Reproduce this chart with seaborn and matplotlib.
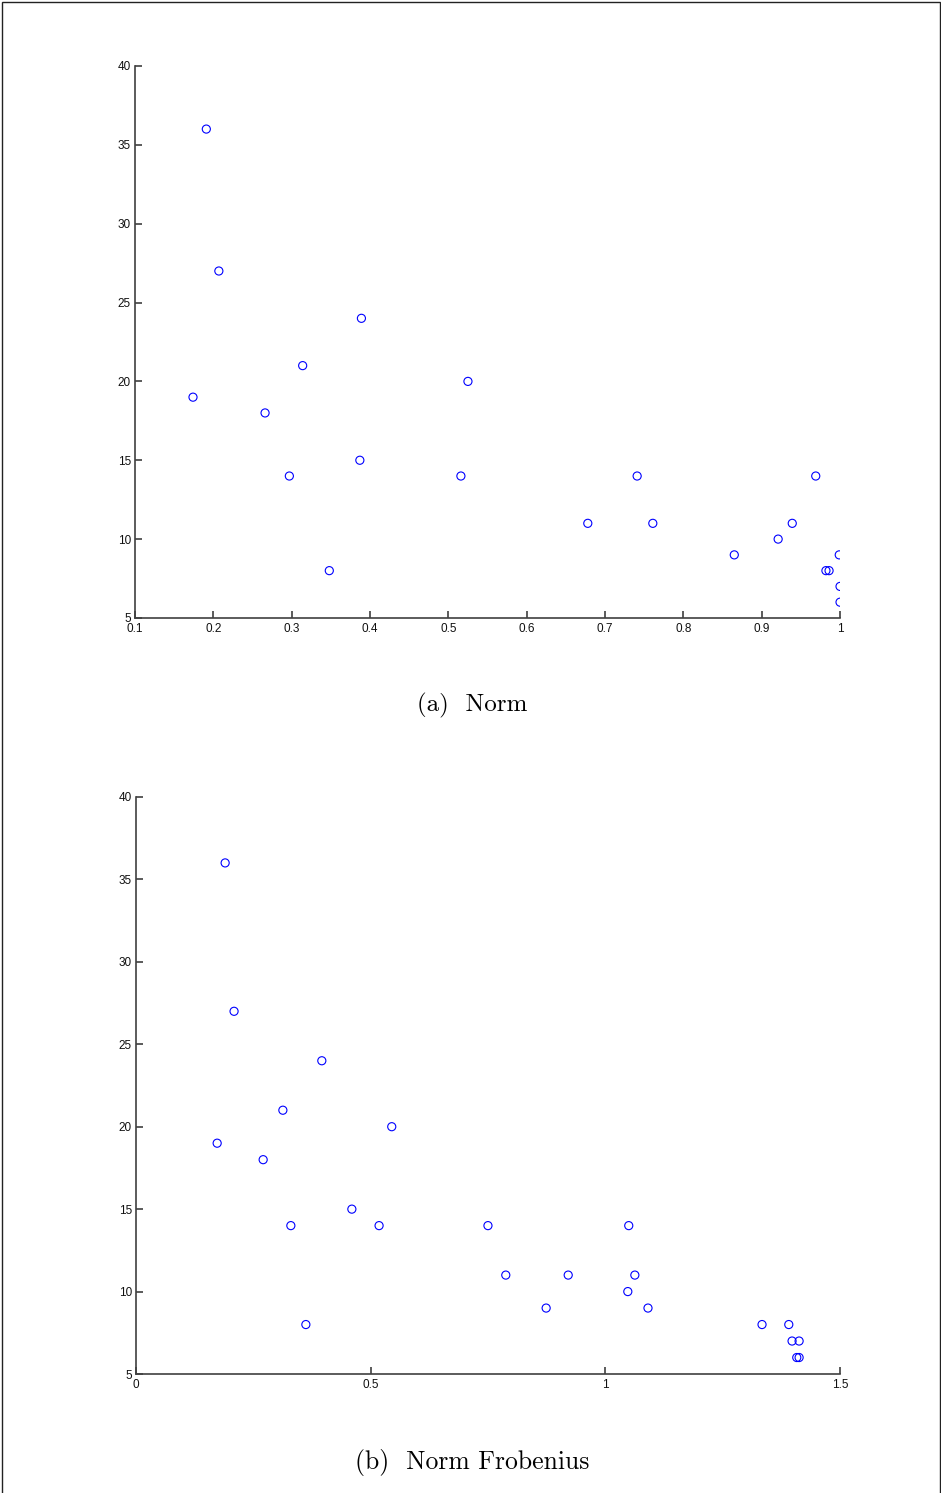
import numpy as np
import pandas as pd
import matplotlib
matplotlib.use("Agg")
import matplotlib.pyplot as plt
import seaborn as sns
from matplotlib.patches import Rectangle

# (a) Norm
norm_x = [0.191, 0.207, 0.174, 0.266, 0.314, 0.297, 0.389, 0.387, 0.348, 0.525, 0.516,
          0.678, 0.741, 0.761, 0.865, 0.921, 0.939, 0.969, 0.999, 0.982, 0.986, 1.0, 1.0]
norm_y = [36, 27, 19, 18, 21, 14, 24, 15, 8, 20, 14,
          11, 14, 11, 9, 10, 11, 14, 9, 8, 8, 7, 6]

# (b) Norm Frobenius
frob_x = [0.190, 0.209, 0.173, 0.271, 0.313, 0.330, 0.396, 0.362, 0.460, 0.545, 0.518,
          0.750, 0.788, 0.874, 0.921, 1.050, 1.063, 1.048, 1.091, 1.334, 1.391, 1.398,
          1.413, 1.408, 1.413]
frob_y = [36, 27, 19, 18, 21, 14, 24, 8, 15, 20, 14,
          14, 11, 9, 11, 14, 11, 10, 9, 8, 8, 7,
          7, 6, 6]

norm_xticks = [0.1, 0.2, 0.3, 0.4, 0.5, 0.6, 0.7, 0.8, 0.9, 1]
norm_xlabels = ['0.1', '0.2', '0.3', '0.4', '0.5', '0.6', '0.7', '0.8', '0.9', '1']
frob_xticks = [0, 0.5, 1, 1.5]
frob_xlabels = ['0', '0.5', '1', '1.5']
yticks = [5, 10, 15, 20, 25, 30, 35, 40]

sns.set_style('ticks')
plt.rcParams['font.family'] = ['Liberation Sans Narrow', 'Liberation Sans', 'DejaVu Sans']
plt.rcParams['text.color'] = 'black'

fig = plt.figure(figsize=(9.41, 14.93), dpi=100)
ax1 = fig.add_axes([0.1435, 0.5861, 0.7492, 0.3697])
ax2 = fig.add_axes([0.1445, 0.0797, 0.7481, 0.3865])

df_a = pd.DataFrame({'x': norm_x, 'y': norm_y})
df_b = pd.DataFrame({'x': frob_x, 'y': frob_y})

for ax, df, xt, xl, xlim in [(ax1, df_a, norm_xticks, norm_xlabels, (0.1, 1.0)),
                             (ax2, df_b, frob_xticks, frob_xlabels, (0, 1.5))]:
    sns.scatterplot(data=df, x='x', y='y', ax=ax, marker='o', s=34,
                    facecolor='none', edgecolor='#0000ff', linewidth=0.8)
    ax.set_xlim(*xlim)
    ax.set_ylim(5, 40)
    ax.set_xticks(xt)
    ax.set_xticklabels(xl)
    ax.set_yticks(yticks)
    ax.set_yticklabels([str(v) for v in yticks])
    ax.set_xlabel('')
    ax.set_ylabel('')
    for s in ['top', 'right']:
        ax.spines[s].set_visible(False)
    for s in ['left', 'bottom']:
        ax.spines[s].set_color('#404040')
        ax.spines[s].set_linewidth(1.2)
    ax.tick_params(direction='in', length=5, width=1.2, color='#404040',
                   labelsize=8.5, labelcolor='#111111')
    ax.tick_params(axis='x', pad=3.5)
    ax.tick_params(axis='y', pad=3)

fig.text(472 / 941, 1 - 705 / 1493, '(a)  Norm', fontfamily='cmr10', fontsize=18,
         ha='center', va='center', color='black')
fig.text(472 / 941, 1 - 1463 / 1493, '(b)  Norm Frobenius', fontfamily='cmr10', fontsize=18.5,
         ha='center', va='center', color='black')

fig.patches.append(Rectangle((2 / 941, -0.01), 938 / 941, 1 - 2 / 1493 + 0.01,
                             transform=fig.transFigure, fill=False,
                             edgecolor='#222222', linewidth=1.0))

fig.savefig('out.png', dpi=100, facecolor='white')
